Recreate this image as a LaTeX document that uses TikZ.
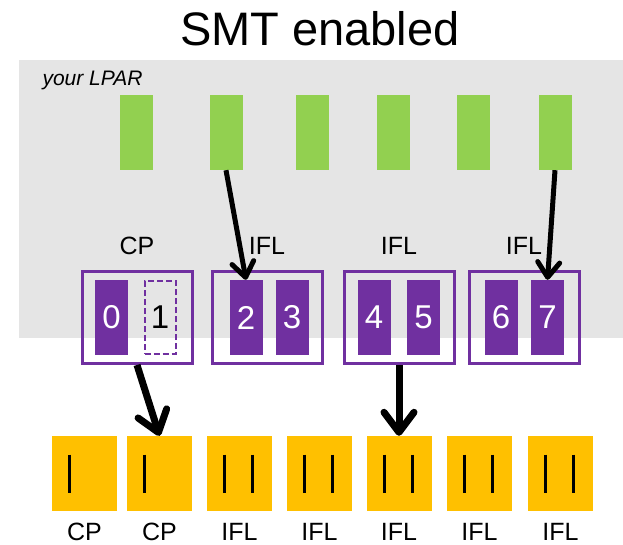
\documentclass[tikz,border=0pt]{standalone}
\usepackage{fontspec}
\setmainfont{Liberation Sans}
\usetikzlibrary{arrows.meta}

\definecolor{smtpurple}{HTML}{7030A0}
\definecolor{smtgreen}{HTML}{92D050}
\definecolor{smtorange}{HTML}{FFC000}
\definecolor{lpargray}{HTML}{E5E5E5}

\begin{document}
\begin{tikzpicture}[
    x=1pt, y=-1pt,
    vproc/.style={rectangle, fill=smtgreen, minimum width=33pt, minimum height=75pt, inner sep=0pt},
    core/.style={rectangle, draw=smtpurple, line width=3pt, minimum width=110pt, minimum height=92pt},
    thread/.style={rectangle, fill=smtpurple, text=white, minimum width=33pt, minimum height=75pt, inner sep=0pt, font=\fontsize{33}{33}\selectfont},
    phys/.style={rectangle, fill=smtorange, minimum width=65pt, minimum height=75pt, inner sep=0pt},
    tag/.style={font=\fontsize{25}{25}\selectfont},
    bar/.style={line width=3pt},
    arrow/.style={-{Straight Barb[round, length=15pt, width=22pt]}, line width=5pt},
    bigarrow/.style={-{Straight Barb[round, length=20pt, width=30pt]}, line width=7pt}
]
    \useasboundingbox (0,0) rectangle (623,545);

    % Title and LPAR area
    \node (title) at (320,29) {\fontsize{47}{47}\selectfont SMT enabled};
    \fill[lpargray] (19,60) rectangle (623,338);
    \node[anchor=west, font=\fontsize{21}{21}\selectfont\itshape] (lpar) at (39,80) {your LPAR};

    % Virtual processors
    \foreach \i/\x in {1/136, 2/226, 3/312, 4/393, 5/473, 6/555}
        \node[vproc] (vp\i) at (\x,132.5) {};

    % Cores with SMT threads
    \node[core] (core1) at (137,317.5) {};
    \node[core] (core2) at (267,317.5) {};
    \node[core] (core3) at (399,317.5) {};
    \node[core] (core4) at (524,317.5) {};
    \node[thread] (t0) at (111.5,317.5) {0};
    \node[thread, fill=none, draw=smtpurple, dash pattern=on 6pt off 3pt, line width=2pt, text=black, minimum width=31pt, minimum height=73pt] (t1) at (160,317.5) {1};
    \node[thread] (t2) at (246,317.5) {2};
    \node[thread] (t3) at (292,317.5) {3};
    \node[thread] (t4) at (374,317.5) {4};
    \node[thread] (t5) at (423.5,317.5) {5};
    \node[thread] (t6) at (501,317.5) {6};
    \node[thread] (t7) at (547.5,317.5) {7};
    \node[tag, above of=core1, node distance=72pt] {CP};
    \node[tag, above of=core2, node distance=72pt] {IFL};
    \node[tag, above of=core3, node distance=72pt] {IFL};
    \node[tag, above of=core4, node distance=72pt] {IFL};

    % Physical processors
    \foreach \i/\x/\t in {1/84.5/CP, 2/159.5/CP, 3/239.5/IFL, 4/319.5/IFL, 5/399/IFL, 6/479.5/IFL, 7/560.5/IFL} {
        \node[phys] (phys\i) at (\x,473.5) {};
        \node[tag, below of=phys\i, node distance=58pt] {\t};
        \draw[bar] ([shift={(-15,-19)}]phys\i.center) -- ([shift={(-15,19)}]phys\i.center);
    }
    \foreach \i in {3,...,7}
        \draw[bar] ([shift={(13,-19)}]phys\i.center) -- ([shift={(13,19)}]phys\i.center);

    % Arrows
    \draw[arrow] (vp2.south) -- (t2.north);
    \draw[arrow] (vp6.south) -- (t7.north);
    \draw[bigarrow] (core1.south) -- (phys2.north);
    \draw[bigarrow] (core3.south) -- (phys5.north);
\end{tikzpicture}
\end{document}
